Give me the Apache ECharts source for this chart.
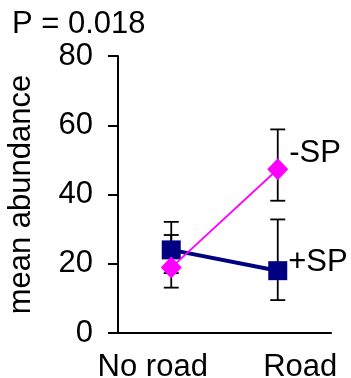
<!DOCTYPE html>
<html>
<head>
<meta charset="utf-8">
<style>
  html, body { margin: 0; padding: 0; background: #fff; }
  #chart { width: 351px; height: 378px; }
</style>
<script src="https://cdn.jsdelivr.net/npm/echarts@6/dist/echarts.min.js"></script>
</head>
<body>
<div id="chart"></div>
<script>
// Mean abundance by site type, with and without SP
var categories = ['No road', 'Road'];
var yTicks = [0, 20, 40, 60, 80];

var plusSP = [24.0, 18.0];
var plusSPLow = [17.3, 9.5];
var plusSPHigh = [32.1, 32.8];

var minusSP = [18.9, 47.3];
var minusSPLow = [13.1, 38.2];
var minusSPHigh = [28.3, 58.8];

var FONT = "'Liberation Sans', Arial, Helvetica, sans-serif";
var FS = 31;

function errorBars(lows, highs) {
  return {
    type: 'custom',
    z: 1,
    silent: true,
    data: categories.map(function (c, i) { return [i, lows[i], highs[i]]; }),
    renderItem: function (params, api) {
      var i = api.value(0);
      var lo = api.coord([i, api.value(1)]);
      var hi = api.coord([i, api.value(2)]);
      var w = 7.5;
      var st = { stroke: '#000', lineWidth: 1.8 };
      return {
        type: 'group',
        children: [
          { type: 'line', shape: { x1: lo[0], y1: lo[1], x2: hi[0], y2: hi[1] }, style: st },
          { type: 'line', shape: { x1: lo[0] - w, y1: lo[1], x2: lo[0] + w, y2: lo[1] }, style: st },
          { type: 'line', shape: { x1: hi[0] - w, y1: hi[1], x2: hi[0] + w, y2: hi[1] }, style: st }
        ]
      };
    }
  };
}

function seriesLabel(text, dy) {
  return {
    show: true, position: 'right', distance: 1, offset: [0, dy],
    formatter: text, color: '#000', fontFamily: FONT, fontSize: FS
  };
}

var chart = echarts.init(document.getElementById('chart'), null, { renderer: 'canvas' });
chart.setOption({
  animation: false,
  backgroundColor: '#fff',
  title: {
    text: 'P = 0.018', left: 7, top: 4,
    textStyle: { fontFamily: FONT, fontSize: FS, fontWeight: 'normal', color: '#000' }
  },
  grid: { left: 118, right: 20, top: 56, bottom: 45, containLabel: false, outerBoundsMode: 'none' },
  xAxis: {
    type: 'category',
    data: categories,
    axisLine: { lineStyle: { color: '#000', width: 2 } },
    axisTick: { show: false },
    axisLabel: {
      margin: 19,
      formatter: function (v, i) { return i === 0 ? '{a|' + v + '}' : '{b|' + v + '}'; },
      rich: {
        a: { fontFamily: FONT, fontSize: FS, color: '#000', padding: [0, 37, 0, 0] },
        b: { fontFamily: FONT, fontSize: FS, color: '#000', padding: [0, 0, 0, 45] }
      }
    }
  },
  yAxis: {
    type: 'value',
    min: yTicks[0], max: yTicks[yTicks.length - 1], interval: 20,
    name: 'mean abundance',
    nameLocation: 'middle',
    nameGap: 81,
    nameTextStyle: { fontFamily: FONT, fontSize: FS, color: '#000' },
    axisLine: { show: true, lineStyle: { color: '#000', width: 2 } },
    axisTick: { show: true, length: 10, lineStyle: { color: '#000', width: 2 } },
    axisLabel: { margin: 25, padding: [0, 0, 6, 0], fontFamily: FONT, fontSize: FS, color: '#000' },
    splitLine: { show: false }
  },
  series: [
    errorBars(plusSPLow, plusSPHigh),
    errorBars(minusSPLow, minusSPHigh),
    {
      name: '+SP', type: 'line', z: 2,
      data: plusSP.map(function (v, i) {
        return i === 1 ? { value: v, label: seriesLabel('+SP', -8) } : v;
      }),
      symbol: 'rect', symbolSize: 19,
      lineStyle: { color: '#000080', width: 4 },
      itemStyle: { color: '#000080' }
    },
    {
      name: '-SP', type: 'line', z: 3,
      data: minusSP.map(function (v, i) {
        return i === 1 ? { value: v, label: seriesLabel('-SP', -16) } : v;
      }),
      symbol: 'diamond', symbolSize: [21, 22],
      lineStyle: { color: '#ff00ff', width: 1.8 },
      itemStyle: { color: '#ff00ff' }
    }
  ]
});
</script>
</body>
</html>
